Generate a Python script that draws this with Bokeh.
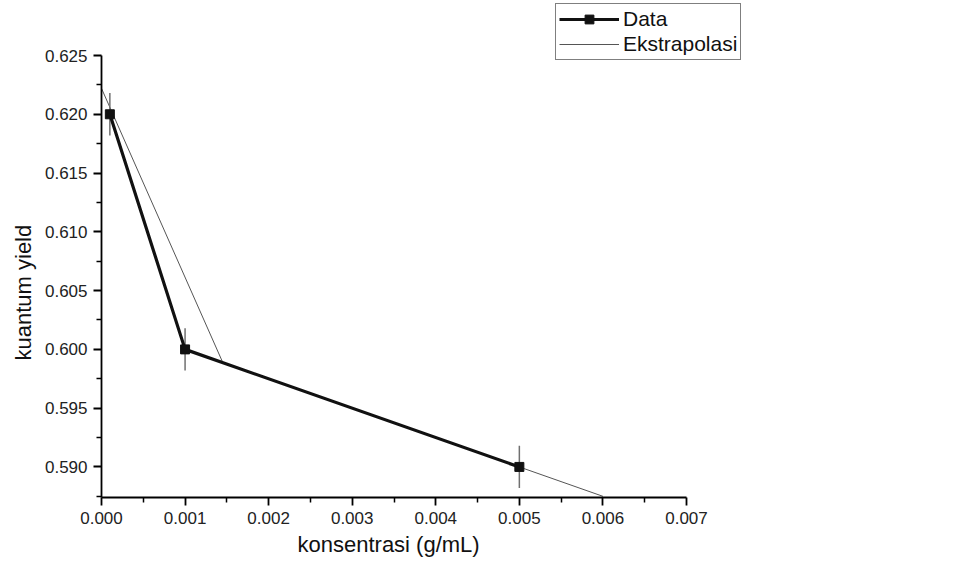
from bokeh.plotting import figure
from bokeh.models import (Range1d, FixedTicker, NumeralTickFormatter, Legend, LegendItem,
                          ColumnDataSource, Title)
from bokeh.embed import file_html
from bokeh.resources import INLINE

# Data series
konsentrasi = [0.0001, 0.001, 0.005]
yield_val = [0.620, 0.600, 0.590]
yield_err = [0.0018, 0.0018, 0.0018]

# Extrapolation line points
ext_x = [0.0, 0.00145, 0.005, 0.006]
ext_y = [0.6222, 0.5989, 0.590, 0.5875]

# Ticks / axis extents
x_ticks = [0.000, 0.001, 0.002, 0.003, 0.004, 0.005, 0.006, 0.007]
x_minor = [0.0005, 0.0015, 0.0025, 0.0035, 0.0045, 0.0055, 0.0065]
y_ticks = [0.590, 0.595, 0.600, 0.605, 0.610, 0.615, 0.620, 0.625]
y_minor = [0.5875, 0.5925, 0.5975, 0.6025, 0.6075, 0.6125, 0.6175, 0.6225]
x_axis_span = (0.0, 0.007)
y_axis_span = (0.5874, 0.625)

FONT = "Liberation Sans"

# layout (pixels)
W, H = 770, 565
LEFT, TOP, BOTTOM = 101, 0, 68
AX_RIGHT, AX_TOP = 686, 55          # where the drawn axes end
FRAME_RIGHT = 758
axis_h = (H - BOTTOM) - AX_TOP
ypp = (y_axis_span[1] - y_axis_span[0]) / axis_h
xpp = (x_axis_span[1] - x_axis_span[0]) / (AX_RIGHT - LEFT)
x_end = x_axis_span[0] + xpp * (FRAME_RIGHT - LEFT)
y_end = y_axis_span[1] + ypp * (AX_TOP - TOP)

p = figure(width=W, height=H, output_backend="svg", toolbar_location=None,
           x_range=Range1d(x_axis_span[0], x_end), y_range=Range1d(y_axis_span[0], y_end),
           min_border_left=LEFT, min_border_top=TOP, min_border_right=W - FRAME_RIGHT,
           min_border_bottom=BOTTOM)
p.outline_line_color = None
p.grid.visible = False
p.background_fill_color = "white"
p.border_fill_color = "white"

src = ColumnDataSource(dict(
    x=konsentrasi, y=yield_val,
    lo=[v - e for v, e in zip(yield_val, yield_err)],
    hi=[v + e for v, e in zip(yield_val, yield_err)],
))

ext = p.line(ext_x, ext_y, line_color="#555555", line_width=1)
p.segment(x0="x", y0="lo", x1="x", y1="hi", source=src, line_color="#707070", line_width=1.5)
dl = p.line("x", "y", source=src, line_color="#111111", line_width=3.2)
ds = p.scatter("x", "y", source=src, marker="square", size=9, fill_color="#111111", line_color="#111111")

for ax, ticks, minor, span in ((p.xaxis[0], x_ticks, x_minor, x_axis_span),
                               (p.yaxis[0], y_ticks, y_minor, y_axis_span)):
    ax.ticker = FixedTicker(ticks=ticks, minor_ticks=minor)
    ax.bounds = span
    ax.formatter = NumeralTickFormatter(format="0.000")
    ax.axis_line_color = "black"
    ax.axis_line_width = 1.8
    ax.major_tick_line_color = "black"
    ax.major_tick_line_width = 1.8
    ax.minor_tick_line_color = "black"
    ax.minor_tick_line_width = 1.5
    ax.major_tick_in = 0
    ax.major_tick_out = 8
    ax.minor_tick_in = 0
    ax.minor_tick_out = 5
    ax.major_label_text_font = FONT
    ax.major_label_text_font_size = "17px"
    ax.major_label_text_color = "#222222"
    ax.major_label_standoff = 6

# axis titles placed as panel titles so they sit under / beside the drawn axes
xt = Title(text="konsentrasi (g/mL)", align="left", vertical_align="top",
           offset=297 - LEFT, standoff=10,
           text_font=FONT, text_font_size="22px", text_font_style="normal", text_color="#111111")
yt = Title(text="kuantum yield", align="left", offset=(H - BOTTOM) - 360, standoff=11,
           text_font=FONT, text_font_size="22px", text_font_style="normal", text_color="#111111")
p.add_layout(xt, "below")
p.add_layout(yt, "left")

legend = Legend(items=[LegendItem(label="Data", renderers=[dl, ds]),
                       LegendItem(label="Ekstrapolasi", renderers=[ext])],
                location=(555 - LEFT, (H - BOTTOM) - 60))
legend.border_line_color = "black"
legend.border_line_width = 1
legend.background_fill_alpha = 1
legend.label_text_font = FONT
legend.label_text_font_size = "21px"
legend.label_text_color = "#111111"
legend.glyph_width = 60
legend.glyph_height = 22
legend.label_height = 22
legend.label_standoff = 4
legend.spacing = 1
legend.padding = 3
legend.margin = 0
p.add_layout(legend, "center")

open("out.html", "w").write(file_html(p, INLINE))
